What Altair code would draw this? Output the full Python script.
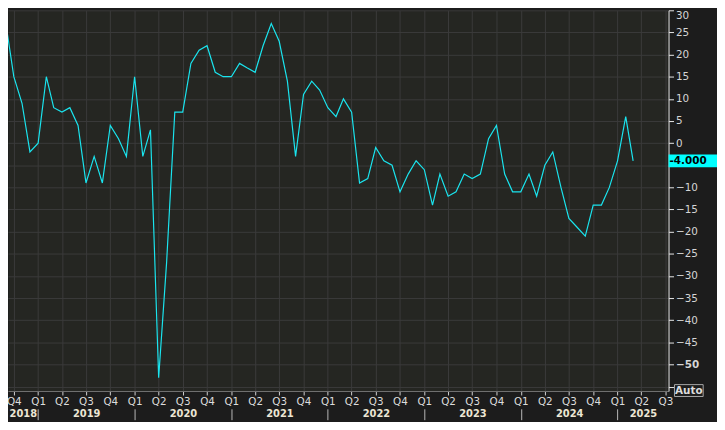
import altair as alt
import pandas as pd

FONT = "DejaVu Sans"

# ---- data (monthly, Aug 2018 .. Mar 2025) ----
first_month = "2018-08-01"
last_month = "2025-03-01"
index_values = [
    22, 27, 15, 9, -2,                                       # 2018 Aug-Dec
    0, 15, 8, 7, 8, 4, -9, -3, -9, 4, 1, -3,                 # 2019
    15, -3, 3, -53, -27, 7, 7, 18, 21, 22, 16, 15,           # 2020
    15, 18, 17, 16, 22, 27, 23, 14, -3, 11, 14, 12,          # 2021
    8, 6, 10, 7, -9, -8, -1, -4, -5, -11, -7, -4,            # 2022
    -6, -14, -7, -12, -11, -7, -8, -7, 1, 4, -7, -11,        # 2023
    -11, -7, -12, -5, -2, -10, -17, -19, -21, -14, -14, -10, # 2024
    -4, 6, -4,                                               # 2025
]
y_tick_values = list(range(-55, 31, 5))
year_tick_years = [2019, 2020, 2021, 2022, 2023, 2024, 2025]
year_label_dates = [(2018, 11, 4), (2019, 7, 2), (2020, 7, 2), (2021, 7, 2),
                    (2022, 7, 2), (2023, 7, 2), (2024, 7, 2), (2025, 4, 7)]
quarter_months = [(2018, 10)] + [(y, m) for y in range(2019, 2025) for m in (1, 4, 7, 10)] + \
                 [(2025, 1), (2025, 4), (2025, 7)]
x_domain = [(2018, 9, 9), (2025, 7, 13)]
last_label = f"{index_values[-1]:.3f}"

dates = pd.date_range(first_month, last_month, freq="MS")
df = pd.DataFrame({"date": dates, "value": index_values})
last_df = pd.DataFrame({"value": [index_values[-1]], "label": [last_label]})
auto_df = pd.DataFrame({"value": [-55], "label": ["Auto"]})


def dt(y, m, d=1):
    return alt.DateTime(year=y, month=m, date=d)


x_scale = alt.Scale(domain=[dt(*x_domain[0]), dt(*x_domain[1])])
y_scale = alt.Scale(domain=[-56, 30], nice=False, zero=False)

y_axis = alt.Axis(
    orient="right", values=y_tick_values, title=None,
    domainColor="#e8e8e8", domainWidth=1,
    tickColor="#e8e8e8", tickSize=5, tickWidth=1,
    labelPadding=2, labelColor="#d6d6d6", labelFont=FONT, labelFontSize=10.5,
    labelFontWeight=alt.condition("datum.value == -50", alt.value("bold"), alt.value("normal")),
    labelExpr="(datum.value == -55 || datum.value == -5) ? '' : datum.label",
    labelFlush=True, labelOverlap=False,
    grid=True, gridColor="#3b3b3b", gridWidth=1,
)

q_axis = alt.Axis(
    orient="bottom", title=None,
    values=[dt(y, m) for y, m in quarter_months],
    labelExpr="'Q' + quarter(datum.value)",
    domainColor="#707070", domainWidth=1,
    tickColor="#d0d0d0", tickSize=4,
    labelPadding=2, labelColor="#dcdcdc", labelFont=FONT, labelFontSize=10.5,
    labelFlush=False, labelOverlap=False, labelBound=False,
    grid=True, gridColor="#3b3b3b", gridWidth=1,
)

yt_axis = alt.Axis(
    orient="bottom", title=None,
    values=[dt(y, 1) for y in year_tick_years],
    labels=False, domain=False, grid=False,
    ticks=True, tickSize=11, tickColor="#b8b8b8", offset=18,
)

yl_axis = alt.Axis(
    orient="bottom", title=None,
    values=[dt(*d) for d in year_label_dates],
    labelExpr="timeFormat(datum.value, '%Y')",
    ticks=False, domain=False, grid=False, offset=17,
    labelPadding=1, labelFont=FONT, labelFontSize=10, labelFontWeight="bold",
    labelColor="#ece6d4", labelFlush=False, labelOverlap=False, labelBound=False,
)

y_enc = alt.Y("value:Q", scale=y_scale, axis=y_axis)

line = alt.Chart(df).mark_line(color="#1ae4ee", strokeWidth=1.2, clip=True).encode(
    x=alt.X("date:T", scale=x_scale, axis=q_axis),
    y=y_enc,
)

year_ticks = alt.Chart(df).mark_point(opacity=0).encode(
    x=alt.X("date:T", scale=x_scale, axis=yt_axis),
)

year_labels = alt.Chart(df).mark_point(opacity=0).encode(
    x=alt.X("date:T", scale=x_scale, axis=yl_axis),
)

last_box = alt.Chart(last_df).mark_tick(
    orient="horizontal", color="#00ffff", size=49, thickness=13, opacity=1
).encode(x=alt.value(692.5), y=y_enc)

last_text = alt.Chart(last_df).mark_text(
    align="left", baseline="middle", font=FONT, fontSize=10.5, fontWeight="bold", color="#000000"
).encode(x=alt.value(669), y=y_enc, text="label:N")

auto_box = alt.Chart(auto_df).mark_tick(
    orient="horizontal", filled=False, color="#a8a8a8", size=29, thickness=12,
    strokeWidth=1, yOffset=4, opacity=1
).encode(x=alt.value(688.5), y=y_enc)

auto_text = alt.Chart(auto_df).mark_text(
    align="center", baseline="middle", font=FONT, fontSize=10.5, fontWeight="bold",
    color="#dcdcdc", yOffset=4
).encode(x=alt.value(688.5), y=y_enc, text="label:N")

chart = alt.layer(
    line, year_ticks, year_labels, last_box, last_text, auto_box, auto_text
).resolve_axis(x="independent").properties(
    width=668, height=385, background="#1c1c1c",
    autosize=alt.AutoSizeParams(type="none"),
    padding={"left": 0, "top": 0, "right": 49, "bottom": 29},
).configure_view(fill="#252622", stroke="transparent")

chart.save("out.html", embed_options={"renderer": "svg", "actions": False})
